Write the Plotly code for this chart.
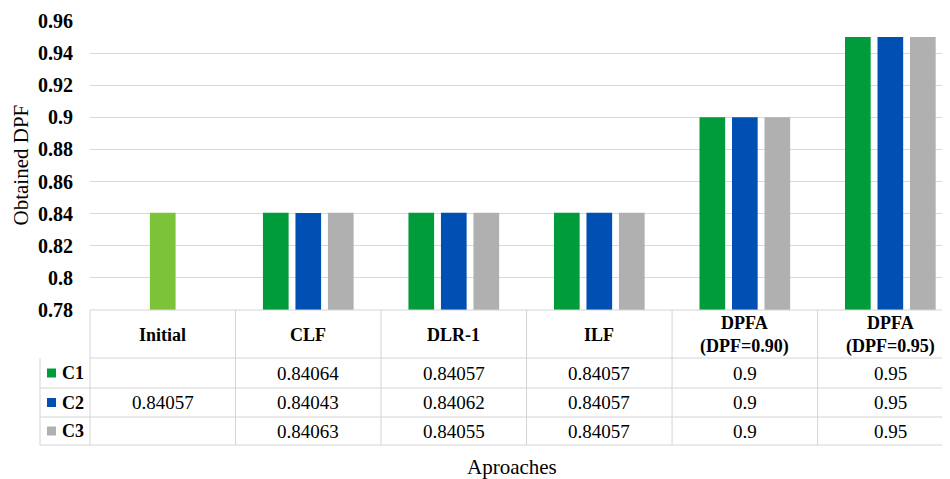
import plotly.graph_objects as go

# ---------------- data ----------------
categories = ["Initial", "CLF", "DLR-1", "ILF", "DPFA (DPF=0.90)", "DPFA (DPF=0.95)"]
series_names = ["C1", "C2", "C3"]
c1_values = [None, 0.84064, 0.84057, 0.84057, 0.9, 0.95]
c2_values = [0.84057, 0.84043, 0.84062, 0.84057, 0.9, 0.95]
c3_values = [None, 0.84063, 0.84055, 0.84057, 0.9, 0.95]
y_ticks = [0.78, 0.80, 0.82, 0.84, 0.86, 0.88, 0.90, 0.92, 0.94, 0.96]
y_title = "Obtained DPF"
x_title = "Aproaches"

# ---------------- styling ----------------
# The page body has an 8px margin, so the figure is shrunk by that amount
OFF = 8
W, H = 950 - OFF, 479 - OFF
REF_PLOT_LEFT, REF_PLOT_TOP, REF_PLOT_BOTTOM = 90, 21, 310
ML = REF_PLOT_LEFT - OFF
MT = REF_PLOT_TOP - OFF
MB = H - (REF_PLOT_BOTTOM - OFF)
PLOT_H = REF_PLOT_BOTTOM - REF_PLOT_TOP
PLOT_W = W - ML
SERIF = "Liberation Serif"
GRID = "#D9D9D9"
LINE = "#D4D4D4"
colors = ["#009B3A", "#0050B4", "#B0B0B0"]
initial_color = "#7DC33A"


def py2paper(py):
    return (REF_PLOT_BOTTOM - py) / PLOT_H


def px2paper(px):
    return (px - REF_PLOT_LEFT) / PLOT_W


all_values = [c1_values, c2_values, c3_values]

fig = go.Figure()
for name, vals, col in zip(series_names, all_values, colors):
    if name == "C2":
        marker_color = [initial_color] + [col] * (len(categories) - 1)
    else:
        marker_color = col
    fig.add_trace(go.Bar(x=categories, y=vals, name=name,
                         marker=dict(color=marker_color, line=dict(width=0)),
                         showlegend=False))

fig.update_layout(
    width=W, height=H,
    margin=dict(l=ML, r=0, t=MT, b=MB),
    plot_bgcolor="white", paper_bgcolor="white",
    barmode="group", bargap=0.33, bargroupgap=0.21,
    font=dict(family=SERIF, color="#000000"),
)
fig.update_xaxes(type="category", range=[-0.5, 5.41], showgrid=False,
                 showticklabels=False, showline=False, zeroline=False, ticks="")
fig.update_yaxes(range=[0.78, 0.96], tickvals=y_ticks,
                 ticktext=[f"{v:g}" for v in y_ticks],
                 tickfont=dict(family=SERIF, size=20, weight="bold"),
                 showgrid=True, gridcolor=GRID, gridwidth=1,
                 zeroline=False, showline=False, ticks="", ticklabelstandoff=16)

shapes = []
annotations = []

# table grid lines
y_top, y_head, y_r1, y_r2, y_r3 = 310, 358, 388, 417, 445
shapes.append(dict(type="line", xref="paper", yref="paper", x0=0, x1=1,
                   y0=py2paper(y_top), y1=py2paper(y_top), line=dict(color=LINE, width=1)))
shapes.append(dict(type="line", xref="paper", yref="paper", x0=0, x1=1,
                   y0=py2paper(y_head), y1=py2paper(y_head), line=dict(color=LINE, width=1)))
for yy in (y_r1, y_r2, y_r3):
    shapes.append(dict(type="line", xref="paper", yref="paper", x0=px2paper(40), x1=1,
                       y0=py2paper(yy), y1=py2paper(yy), line=dict(color=LINE, width=1)))
shapes.append(dict(type="line", xref="paper", yref="paper", x0=px2paper(40), x1=px2paper(40),
                   y0=py2paper(y_head), y1=py2paper(y_r3), line=dict(color=LINE, width=1)))
shapes.append(dict(type="line", xref="paper", yref="paper", x0=0, x1=0,
                   y0=py2paper(y_top), y1=py2paper(y_r3), line=dict(color=LINE, width=1)))
for i in range(len(categories) - 1):
    shapes.append(dict(type="line", xref="x", yref="paper", x0=i + 0.5, x1=i + 0.5,
                       y0=py2paper(y_top), y1=py2paper(y_r3), line=dict(color=LINE, width=1)))

# header labels
for i, cat in enumerate(categories):
    annotations.append(dict(xref="x", yref="paper", x=i, y=py2paper(335),
                            text=cat.replace(" (", "<br>("), showarrow=False,
                            xanchor="center", yanchor="middle",
                            font=dict(family=SERIF, size=18, weight="bold")))

# rows
row_centers = [373, 402.5, 431]
for name, vals, col, rc in zip(series_names, all_values, colors, row_centers):
    shapes.append(dict(type="rect", xref="paper", yref="paper",
                       x0=px2paper(47), x1=px2paper(56),
                       y0=py2paper(rc + 4.5), y1=py2paper(rc - 4.5),
                       fillcolor=col, line=dict(width=0)))
    annotations.append(dict(xref="paper", yref="paper", x=px2paper(60), y=py2paper(rc),
                            text=name, showarrow=False, xanchor="left", yanchor="middle",
                            font=dict(family=SERIF, size=18, weight="bold")))
    for i, v in enumerate(vals):
        if v is None:
            continue
        annotations.append(dict(xref="x", yref="paper", x=i, y=py2paper(rc),
                                text=f"{v:g}", showarrow=False,
                                xanchor="center", yanchor="middle",
                                font=dict(family=SERIF, size=19)))

# axis titles
annotations.append(dict(xref="paper", yref="paper", x=px2paper(20), y=0.5,
                        text=y_title, textangle=-90, showarrow=False,
                        xanchor="center", yanchor="middle",
                        font=dict(family=SERIF, size=21)))
annotations.append(dict(xref="paper", yref="paper", x=px2paper(512), y=py2paper(467),
                        text=x_title, showarrow=False, xanchor="center", yanchor="middle",
                        font=dict(family=SERIF, size=21)))

fig.update_layout(shapes=shapes, annotations=annotations)
fig.write_html("out.html")
